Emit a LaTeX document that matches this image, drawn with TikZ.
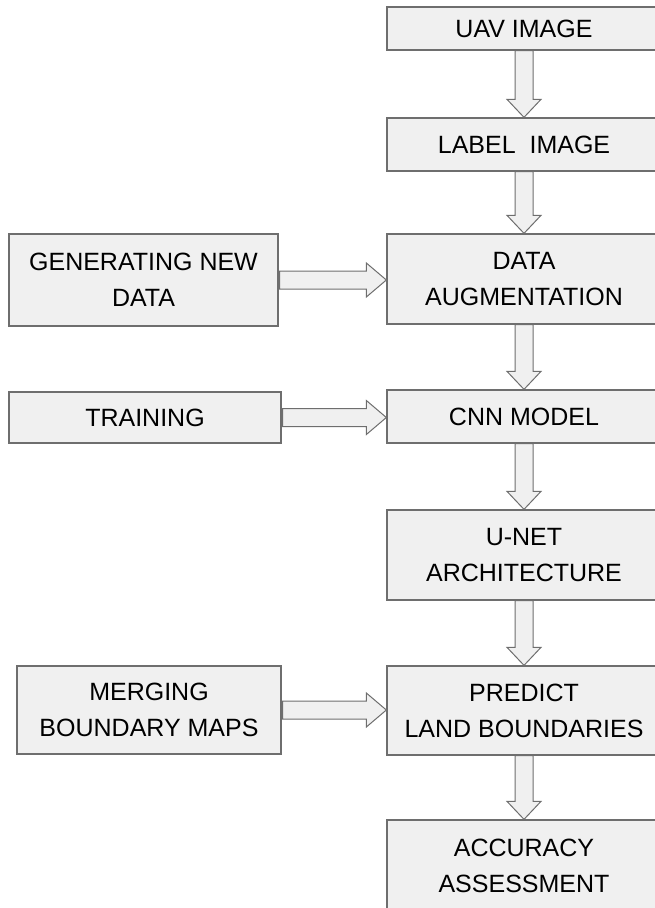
\documentclass[tikz,border=0pt]{standalone}
\usepackage{fontspec}
\setmainfont{Liberation Sans}
\usepackage{tikz}
\usetikzlibrary{calc}
\definecolor{boxfill}{HTML}{F0F0F0}
\definecolor{boxline}{HTML}{6E6E6E}

\begin{document}
\begin{tikzpicture}[x=1pt,y=-1pt,
	box/.style={draw=boxline,fill=boxfill,line width=1.3pt,inner sep=0pt,align=center,font=\fontsize{25}{36}\selectfont},
	blockarrow/.style={draw=boxline,fill=boxfill,line width=1pt,line join=miter}]
	\useasboundingbox (0,0) rectangle (654,908);
	% main column
	\node[box,minimum width=274,minimum height=43] (uav) at (524,28.5) {UAV IMAGE};
	\node[box,minimum width=274,minimum height=53] (label) at (524,144.5) {LABEL\ \ IMAGE};
	\node[box,minimum width=274,minimum height=90] (aug) at (524,279) {DATA\\AUGMENTATION};
	\node[box,minimum width=274,minimum height=53] (cnn) at (524,416.5) {CNN MODEL};
	\node[box,minimum width=274,minimum height=90] (unet) at (524,555) {U-NET\\ARCHITECTURE};
	\node[box,minimum width=274,minimum height=89] (predict) at (524,710.5) {PREDICT\\LAND BOUNDARIES};
	\node[box,minimum width=274,minimum height=92] (acc) at (524,866) {ACCURACY\\ASSESSMENT};
	% side inputs
	\node[box,minimum width=269,minimum height=92] (gen) at (143.5,280) {GENERATING NEW\\DATA};
	\node[box,minimum width=272,minimum height=51] (train) at (145,417.5) {TRAINING};
	\node[box,minimum width=264,minimum height=88] (merge) at (149,710) {MERGING\\BOUNDARY MAPS};
	\foreach \a/\b in {uav/label,label/aug,aug/cnn,cnn/unet,unet/predict,predict/acc}{
		\draw[blockarrow] ($(\a.south)+(-9,0)$) -- ($(\b.north)+(-9,-18)$) -- ++(-8,0)
			-- (\b.north) -- ++(17,-18) -- ++(-8,0) -- ($(\a.south)+(9,0)$) -- cycle;
	}
	\foreach \a/\b in {gen/aug,train/cnn,merge/predict}{
		\coordinate (tip) at (\b.west|-\a.east);
		\draw[blockarrow] ($(\a.east)+(1,-9)$) -- ($(tip)+(-20,-9)$) -- ++(0,-8)
			-- (tip) -- ++(-20,17) -- ++(0,-8) -- ($(\a.east)+(1,9)$) -- cycle;
	}
\end{tikzpicture}
\end{document}
